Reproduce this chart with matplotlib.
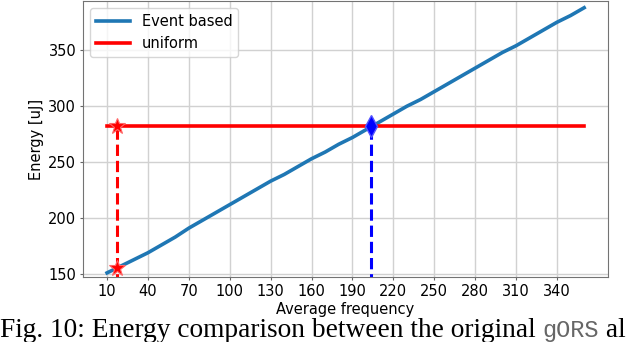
import matplotlib
matplotlib.use("Agg")
import matplotlib.pyplot as plt

freq = [10, 20, 30, 40, 50, 60, 70, 80, 90, 100, 110, 120, 130, 140, 150, 160, 170, 180,
        190, 200, 210, 220, 230, 240, 250, 260, 270, 280, 290, 300, 310, 320, 330, 340, 350, 360]
event_energy = [151, 157, 163, 169, 176, 183, 191, 198, 205, 212, 219, 226, 233, 239, 246, 253, 259, 266,
                272, 279, 286, 293, 300, 306, 313, 320, 327, 334, 341, 348, 354, 361, 368, 375, 381, 388]
uniform_energy = [282] * len(freq)
uniform_freq = 17
uniform_on_event = 155
cross_freq = 204
cross_energy = 282
xticks = list(range(10, 341, 30))
yticks = [150, 200, 250, 300, 350]

fig = plt.figure(figsize=(6.4, 3.42), dpi=100)
ax = fig.add_axes([0.13, 0.19, 0.82, 0.807])

ax.plot(freq, event_energy, color='#1f77b4', lw=2.6, label='Event based', zorder=3)
ax.plot(freq, uniform_energy, color='red', lw=2.6, label='uniform', zorder=3)
ax.plot([uniform_freq, uniform_freq], [140, cross_energy], color='red', lw=2.2, ls='--', zorder=2)
ax.plot([cross_freq, cross_freq], [140, cross_energy], color='blue', lw=2.2, ls='--', zorder=2)
ax.plot([uniform_freq, uniform_freq], [uniform_on_event, cross_energy], ls='none', marker='*',
        ms=12, color='red', mec='#ff6666', mew=0.8, zorder=4)
ax.plot([cross_freq], [cross_energy], ls='none', marker='d', ms=11, color='blue', mec='#5555ff', zorder=4)

ax.set_xlim(-7.5, 377.5)
ax.set_ylim(147.3, 394)
ax.set_xticks(xticks)
ax.set_yticks(yticks)
ax.tick_params(labelsize=10.5, color='0.4', length=2.5, pad=2.5)
ax.grid(True, color='0.82', lw=1)
for s in ax.spines.values():
    s.set_color('0.45')
ax.set_xlabel('Average frequency', fontsize=10.5, labelpad=2)
ax.set_ylabel('Energy [uJ]', fontsize=10.5, labelpad=3)
ax.legend(loc='upper left', fontsize=10.5, framealpha=0.8, handlelength=2.3)

# caption
fig.canvas.draw()
r = fig.canvas.get_renderer()
ybase = 5 / 342
t1 = fig.text(0.0, ybase, 'Fig. 10: Energy comparison between the original ', family='Liberation Serif',
              fontsize=19.7, va='baseline')
bb = t1.get_window_extent(r)
t2 = fig.text(bb.x1 / fig.bbox.width, ybase, 'gORS', family='Liberation Mono', fontsize=17,
              color='0.4', va='baseline')
bb2 = t2.get_window_extent(r)
fig.text(bb2.x1 / fig.bbox.width, ybase, ' al', family='Liberation Serif', fontsize=19.7, va='baseline')

fig.savefig('out.png', dpi=100)
